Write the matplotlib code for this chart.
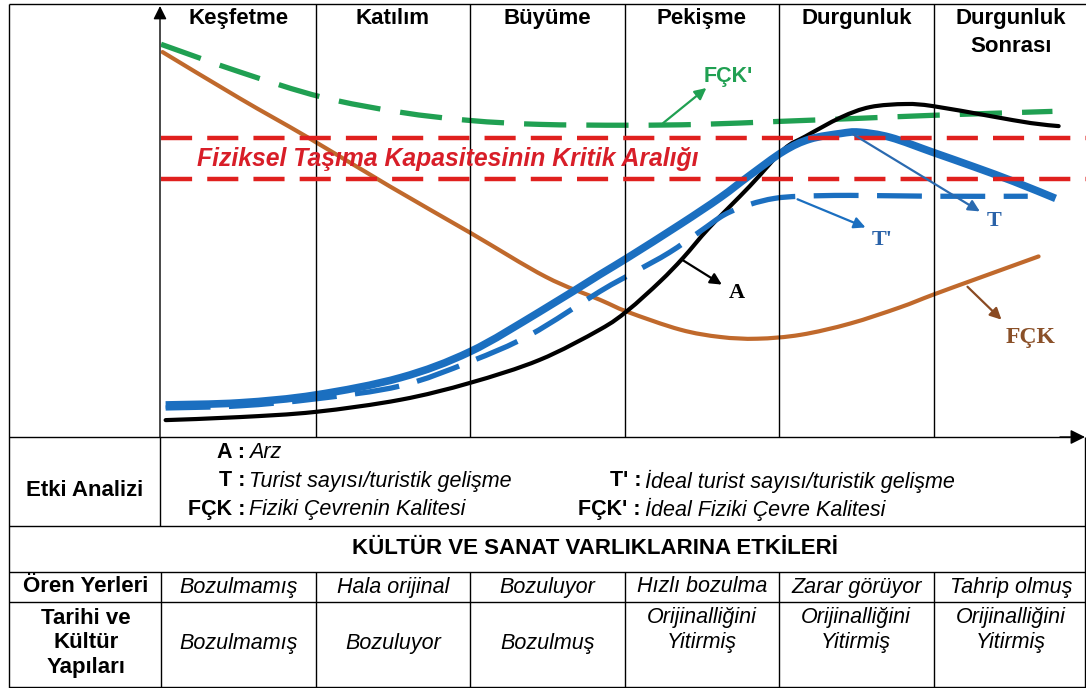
import matplotlib
matplotlib.use('Agg')
import matplotlib.pyplot as plt
from matplotlib.path import Path
from matplotlib.patches import PathPatch
from matplotlib.transforms import blended_transform_factory
import numpy as np

plt.rcParams['font.family'] = ['Liberation Sans', 'DejaVu Sans']

# ---------------- data ----------------
stages = ["Keşfetme", "Katılım", "Büyüme", "Pekişme", "Durgunluk", "Durgunluk\nSonrası"]

# A : Arz (supply)
arz_x = [0.03, 0.51, 1.00, 1.55, 2.00, 2.45, 2.84, 3.02, 3.23, 3.38, 3.55, 3.81, 4.03, 4.17, 4.40, 4.59, 4.82, 5.00, 5.37, 5.63, 5.81]
arz_y = [3.9, 4.6, 5.8, 8.6, 12.5, 17.8, 24.8, 29.2, 35.9, 41.4, 48.4, 57.9, 66.4, 69.4, 73.8, 76.2, 76.9, 76.4, 74.1, 72.5, 71.8]

# T : Turist sayısı
t_x = [0.03, 0.51, 1.00, 1.55, 2.00, 2.45, 2.84, 3.02, 3.36, 3.62, 3.81, 4.03, 4.20, 4.40, 4.52, 4.72, 5.00, 5.27, 5.52, 5.79]
t_y = [7.4, 7.9, 9.7, 13.7, 19.7, 28.9, 37.5, 41.4, 49.1, 55.3, 60.4, 66.0, 68.8, 70.1, 70.4, 69.2, 65.7, 62.3, 59.0, 55.1]

# T' : İdeal turist sayısı
ti_x = [0.03, 0.51, 1.00, 1.55, 2.00, 2.39, 2.84, 3.06, 3.29, 3.49, 3.65, 3.81, 3.97, 4.14, 4.46, 5.00, 5.61]
ti_y = [6.7, 7.2, 8.8, 11.8, 17.4, 23.6, 33.6, 38.0, 42.6, 47.5, 51.4, 53.7, 55.1, 55.6, 55.8, 55.6, 55.6]

# FÇK : Fiziki çevrenin kalitesi
fck_x = [0.01, 0.51, 0.95, 1.48, 2.00, 2.49, 2.84, 3.02, 3.36, 3.62, 3.86, 4.14, 4.46, 4.78, 5.00, 5.30, 5.68]
fck_y = [88.9, 78.2, 69.2, 57.9, 47.2, 37.0, 31.7, 28.9, 24.8, 23.1, 22.7, 23.6, 26.2, 29.9, 32.9, 36.8, 41.7]

# FÇK' : İdeal fiziki çevre kalitesi
fcki_x = [0.00, 0.51, 1.04, 1.55, 2.00, 2.45, 3.02, 3.49, 4.01, 4.52, 5.00, 5.77]
fcki_y = [90.7, 84.3, 78.5, 75.0, 73.1, 72.2, 72.0, 72.2, 72.9, 73.6, 74.3, 75.2]

critical_range = [59.5, 69.0]
critical_label = "Fiziksel Taşıma Kapasitesinin Kritik Aralığı"

# curve labels: (text, arrow start, arrow tip, label position)
curve_labels = [
    ("FÇK'", (3.25, 72.5), (3.53, 80.6), (3.67, 83.3)),
    ("A",    (3.37, 41.0), (3.63, 35.2), (3.73, 33.3)),
    ("T'",   (4.12, 54.9), (4.56, 48.4), (4.67, 45.4)),
    ("T",    (4.48, 69.9), (5.30, 52.1), (5.39, 49.8)),
    ("FÇK",  (5.22, 34.7), (5.44, 27.1), (5.63, 22.9)),
]

legend_left = [("A :", "Arz"), ("T :", "Turist sayısı/turistik gelişme"),
               ("FÇK :", "Fiziki Çevrenin Kalitesi")]
legend_right = [("T' :", "İdeal turist sayısı/turistik gelişme"),
                ("FÇK' :", "İdeal Fiziki Çevre Kalitesi")]

section_label = "Etki Analizi"
table_title = "KÜLTÜR VE SANAT VARLIKLARINA ETKİLERİ"
row_labels = ["Ören Yerleri", "Tarihi ve\nKültür\nYapıları"]
oren_yerleri = ["Bozulmamış", "Hala orijinal", "Bozuluyor", "Hızlı bozulma", "Zarar görüyor", "Tahrip olmuş"]
tarihi_yapilar = ["Bozulmamış", "Bozuluyor", "Bozulmuş", "Orijinalliğini\nYitirmiş",
                  "Orijinalliğini\nYitirmiş", "Orijinalliğini\nYitirmiş"]

# ---------------- styles ----------------
C_BLUE = '#1b6fc0'
C_GREEN = '#20a052'
C_RED = '#e0201e'
C_BROWN = '#c0692c'
C_BLACK = '#000000'

W, H = 1086, 688
fig = plt.figure(figsize=(W / 100, H / 100), dpi=100)
fig.patch.set_facecolor('white')

ov = fig.add_axes([0, 0, 1, 1])
ov.set_xlim(0, W)
ov.set_ylim(H, 0)
ov.axis('off')

X0, XW = 161, 927
YB, YT = 437, 4
ch = fig.add_axes([X0 / W, (H - YB) / H, XW / W, (YB - YT) / H])
ch.set_xlim(0, 6)
ch.set_ylim(0, 100)
ch.axis('off')
ch.patch.set_alpha(0)

bx = blended_transform_factory(ch.transData, ov.transData)


def smooth_curve(ax, xs, ys, **kw):
    P = np.column_stack([xs, ys]).astype(float)
    n = len(P)
    verts = [P[0]]
    codes = [Path.MOVETO]
    for i in range(n - 1):
        p0 = P[i - 1] if i > 0 else P[i]
        p1 = P[i]
        p2 = P[i + 1]
        p3 = P[i + 2] if i + 2 < n else P[i + 1]
        c1 = p1 + (p2 - p0) / 6.0
        c2 = p2 - (p3 - p1) / 6.0
        verts += [c1, c2, p2]
        codes += [Path.CURVE4] * 3
    patch = PathPatch(Path(verts, codes), fill=False, **kw)
    ax.add_patch(patch)
    return patch


# ---------------- table / frame lines ----------------
lw_t = 1.0
ov.hlines(YT, 9, W, color='black', lw=lw_t)
ov.vlines(9, YT, H, color='black', lw=lw_t)
for yy in [526, 572, 602]:
    ov.hlines(yy, 9, W, color='black', lw=lw_t)
ov.hlines(H - 1, 9, W, color='black', lw=lw_t)
ov.vlines(W - 1.5, YB, H, color='black', lw=lw_t)
ov.hlines(YB, 9, 1070, color='black', lw=lw_t)
ov.annotate('', xy=(W - 1, YB), xytext=(1060, YB),
            arrowprops=dict(arrowstyle='-|>', color='black', lw=1.0,
                            mutation_scale=22, shrinkA=0, shrinkB=0))
ov.annotate('', xy=(160, 6), xytext=(160, YB),
            arrowprops=dict(arrowstyle='-|>', color='black', lw=1.0,
                            mutation_scale=20, shrinkA=0, shrinkB=0))
ov.vlines(160, YB, 526, color='black', lw=lw_t)

# stage dividers
ch.vlines([1, 2, 3, 4, 5], 0, 100, color='black', lw=lw_t)
ov.vlines([0, 1, 2, 3, 4, 5], 572, H, color='black', lw=lw_t, transform=bx)

# ---------------- curves ----------------
for yv in critical_range:
    ch.plot([0, 6], [yv, yv], color=C_RED, lw=3.2, dashes=(7, 3.4), solid_capstyle='butt',
            dash_capstyle='butt')

smooth_curve(ch, fcki_x, fcki_y, edgecolor=C_GREEN, lw=3.8, linestyle=(0, (8, 3.8)), capstyle='butt')
smooth_curve(ch, fck_x, fck_y, edgecolor=C_BROWN, lw=3.0, capstyle='round')
smooth_curve(ch, arz_x, arz_y, edgecolor=C_BLACK, lw=3.0, capstyle='round')
smooth_curve(ch, ti_x, ti_y, edgecolor=C_BLUE, lw=3.8, linestyle=(0, (8.5, 3.5)), capstyle='butt')
smooth_curve(ch, t_x, t_y, edgecolor=C_BLUE, lw=5.5, capstyle='butt')

ch.text(0.233, sum(critical_range) / 2, critical_label, color='#d81e28', fontsize=17.8,
        fontweight='bold', style='italic', ha='left', va='center')

label_styles = {
    "FÇK'": dict(color=C_GREEN, family=['Liberation Sans'], acolor=C_GREEN, size=15.5),
    "A": dict(color='black', family=['Liberation Serif'], acolor='black', size=16),
    "T'": dict(color='#2a62a8', family=['Liberation Serif'], acolor=C_BLUE, size=16),
    "T": dict(color='#2a62a8', family=['Liberation Serif'], acolor='#2a6ab0', size=16),
    "FÇK": dict(color='#8a5028', family=['Liberation Serif'], acolor='#8a4a22', size=17),
}
for name, start, tip, pos in curve_labels:
    st = label_styles[name]
    ch.annotate('', xy=tip, xytext=start,
                arrowprops=dict(arrowstyle='-|>', color=st['acolor'], lw=1.6,
                                mutation_scale=17, shrinkA=0, shrinkB=0),
                annotation_clip=False)
    ch.text(pos[0], pos[1], name, color=st['color'], family=st['family'],
            fontweight='bold', fontsize=st['size'], ha='center', va='center')

# ---------------- texts ----------------
for k, name in enumerate(stages):
    ov.text(k + 0.5, 8, name, transform=bx, ha='center', va='top', fontsize=16,
            fontweight='bold', linespacing=1.45)

ov.text(85, 490, section_label, ha='center', va='center', fontsize=16, fontweight='bold')
for i, (k, v) in enumerate(legend_left):
    yy = 453 + 28 * i
    ov.text(245, yy, k, ha='right', va='center', fontsize=15.5, fontweight='bold')
    ov.text(249, yy, v, ha='left', va='center', fontsize=15.5, style='italic')
for i, (k, v) in enumerate(legend_right):
    yy = 481 + 28 * i
    ov.text(641, yy, k, ha='right', va='center', fontsize=15.5, fontweight='bold')
    ov.text(645, yy, v, ha='left', va='center', fontsize=15.5, style='italic')

ov.text(595, 548, table_title, ha='center', va='center', fontsize=16, fontweight='bold')
ov.text(86, 587, row_labels[0], ha='center', va='center', fontsize=16, fontweight='bold')
ov.text(86, 643, row_labels[1], ha='center', va='center', fontsize=16, fontweight='bold',
        linespacing=1.25)
for k, s in enumerate(oren_yerleri):
    ov.text(k + 0.5, 587, s, transform=bx, ha='center', va='center', fontsize=15.5, style='italic')
for k, s in enumerate(tarihi_yapilar):
    yy = 630 if '\n' in s else 643
    ov.text(k + 0.5, yy, s, transform=bx, ha='center', va='center', fontsize=15.5,
            style='italic', linespacing=1.25)

fig.savefig('out.png', dpi=100, facecolor='white')
